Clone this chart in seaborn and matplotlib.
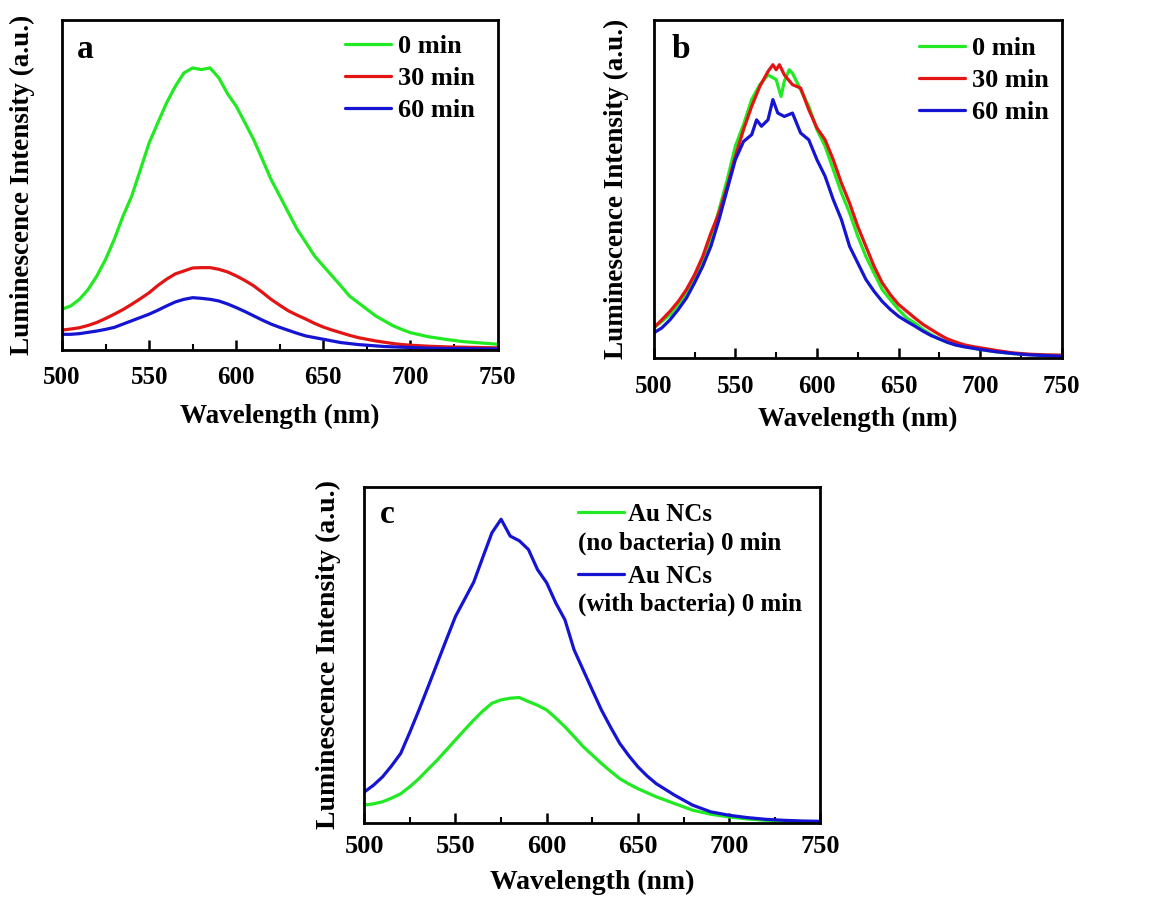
import numpy as np
import pandas as pd
import matplotlib
matplotlib.use("Agg")
import matplotlib.pyplot as plt
import seaborn as sns
from matplotlib.ticker import MultipleLocator

# ---------------- data (arbitrary units) ----------------
# Panel a
wl_a = [500, 505, 510, 515, 520, 525, 530, 535, 540, 545, 550, 555, 560, 565, 570,
        575, 580, 585, 590, 595, 600, 605, 610, 615, 620, 625, 630, 635, 640, 645,
        650, 655, 660, 665, 670, 675, 680, 685, 690, 695, 700, 710, 720, 730, 740, 750]
a_0min = [0.123, 0.133, 0.153, 0.183, 0.224, 0.274, 0.335, 0.405, 0.466, 0.546, 0.627,
          0.688, 0.748, 0.798, 0.839, 0.854, 0.849, 0.854, 0.824, 0.776, 0.738, 0.688,
          0.637, 0.577, 0.516, 0.466, 0.415, 0.365, 0.325, 0.284, 0.254, 0.224, 0.194,
          0.163, 0.143, 0.123, 0.103, 0.088, 0.073, 0.062, 0.052, 0.040, 0.032, 0.025,
          0.021, 0.017]
a_30min = [0.060, 0.063, 0.067, 0.074, 0.083, 0.095, 0.108, 0.122, 0.138, 0.155, 0.173,
           0.195, 0.214, 0.230, 0.239, 0.248, 0.249, 0.249, 0.244, 0.236, 0.224, 0.210,
           0.194, 0.174, 0.153, 0.135, 0.118, 0.105, 0.093, 0.080, 0.069, 0.060, 0.052,
           0.044, 0.037, 0.032, 0.027, 0.023, 0.019, 0.016, 0.014, 0.011, 0.009, 0.008,
           0.007, 0.006]
a_60min = [0.047, 0.047, 0.049, 0.053, 0.057, 0.062, 0.068, 0.078, 0.088, 0.098, 0.108,
           0.120, 0.133, 0.145, 0.153, 0.158, 0.156, 0.153, 0.148, 0.139, 0.128, 0.116,
           0.103, 0.090, 0.078, 0.068, 0.059, 0.050, 0.042, 0.037, 0.032, 0.027, 0.022,
           0.019, 0.016, 0.014, 0.012, 0.010, 0.009, 0.008, 0.007, 0.005, 0.004, 0.004,
           0.003, 0.003]

# Panel b
wl_b_0 = [500, 505, 510, 515, 520, 525, 530, 535, 540, 545, 550, 555, 560, 565, 570,
          575, 578, 580, 583, 585, 590, 595, 600, 605, 610, 615, 620, 625, 630, 635,
          640, 645, 650, 655, 660, 665, 670, 675, 680, 685, 690, 695, 700, 710, 720,
          730, 740, 750]
b_0min = [0.089, 0.108, 0.128, 0.158, 0.192, 0.232, 0.286, 0.350, 0.438, 0.527, 0.626,
          0.690, 0.764, 0.808, 0.837, 0.823, 0.773, 0.818, 0.852, 0.842, 0.793, 0.744,
          0.675, 0.626, 0.557, 0.488, 0.429, 0.360, 0.300, 0.251, 0.202, 0.172, 0.143,
          0.118, 0.103, 0.084, 0.069, 0.056, 0.046, 0.039, 0.034, 0.030, 0.025, 0.018,
          0.013, 0.010, 0.008, 0.007]
wl_b_30 = [500, 505, 510, 515, 520, 525, 530, 535, 540, 545, 550, 555, 560, 565, 570,
           573, 575, 577, 580, 585, 590, 595, 600, 605, 610, 615, 620, 625, 630, 635,
           640, 645, 650, 655, 660, 665, 670, 675, 680, 685, 690, 695, 700, 710, 720,
           730, 740, 750]
b_30min = [0.089, 0.113, 0.138, 0.167, 0.202, 0.246, 0.300, 0.369, 0.429, 0.507, 0.596,
           0.675, 0.744, 0.803, 0.847, 0.867, 0.852, 0.867, 0.837, 0.808, 0.798, 0.734,
           0.680, 0.645, 0.586, 0.517, 0.458, 0.389, 0.330, 0.271, 0.222, 0.187, 0.158,
           0.138, 0.118, 0.099, 0.084, 0.069, 0.056, 0.047, 0.039, 0.034, 0.030, 0.022,
           0.015, 0.011, 0.009, 0.008]
wl_b_60 = [500, 505, 510, 515, 520, 525, 530, 535, 540, 545, 550, 555, 560, 563, 566,
           570, 573, 576, 580, 585, 590, 595, 600, 605, 610, 615, 620, 625, 630, 635,
           640, 645, 650, 655, 660, 665, 670, 675, 680, 685, 690, 695, 700, 710, 720,
           730, 740, 750]
b_60min = [0.074, 0.089, 0.113, 0.143, 0.177, 0.222, 0.271, 0.330, 0.409, 0.498, 0.586,
           0.640, 0.660, 0.704, 0.685, 0.704, 0.764, 0.724, 0.714, 0.724, 0.665, 0.645,
           0.586, 0.537, 0.468, 0.409, 0.330, 0.281, 0.232, 0.197, 0.167, 0.143, 0.123,
           0.108, 0.094, 0.079, 0.066, 0.056, 0.046, 0.038, 0.033, 0.029, 0.025, 0.018,
           0.013, 0.009, 0.007, 0.005]

# Panel c
wl_c = [500, 505, 510, 515, 520, 525, 530, 535, 540, 545, 550, 555, 560, 565, 570,
        575, 580, 585, 590, 595, 600, 605, 610, 615, 620, 625, 630, 635, 640, 645,
        650, 655, 660, 665, 670, 675, 680, 685, 690, 695, 700, 710, 720, 730, 740, 750]
c_no_bact = [0.053, 0.057, 0.063, 0.074, 0.087, 0.108, 0.132, 0.160, 0.187, 0.217,
             0.247, 0.277, 0.306, 0.333, 0.356, 0.366, 0.371, 0.373, 0.361, 0.350,
             0.336, 0.312, 0.286, 0.257, 0.227, 0.202, 0.177, 0.154, 0.132, 0.116,
             0.102, 0.090, 0.078, 0.068, 0.058, 0.048, 0.038, 0.032, 0.026, 0.022,
             0.018, 0.012, 0.008, 0.006, 0.004, 0.003]
c_with_bact = [0.092, 0.112, 0.137, 0.170, 0.207, 0.270, 0.336, 0.405, 0.475, 0.545,
               0.614, 0.665, 0.716, 0.790, 0.863, 0.903, 0.853, 0.839, 0.813, 0.753,
               0.714, 0.654, 0.604, 0.515, 0.455, 0.395, 0.336, 0.285, 0.237, 0.200,
               0.167, 0.140, 0.117, 0.100, 0.083, 0.068, 0.053, 0.043, 0.033, 0.028,
               0.023, 0.016, 0.011, 0.008, 0.006, 0.005]

x_ticks = [500, 550, 600, 650, 700, 750]
legend_ab = ["0 min", "30 min", "60 min"]
legend_c_top = ["Au NCs", "Au NCs"]
legend_c_bottom = ["(no bacteria) 0 min", "(with bacteria) 0 min"]

GREEN = "#22ea22"
RED = "#e21414"
BLUE = "#1414d2"

# ---------------- style ----------------
sns.set_theme(style="ticks")
plt.rcParams["font.family"] = ["Liberation Serif", "DejaVu Serif"]
plt.rcParams["font.weight"] = "bold"
plt.rcParams["axes.labelweight"] = "bold"
plt.rcParams["text.color"] = "black"
plt.rcParams["axes.labelcolor"] = "black"
plt.rcParams["xtick.color"] = "black"
plt.rcParams["ytick.color"] = "black"
plt.rcParams["xtick.labelcolor"] = "black"

fig = plt.figure(figsize=(11.49, 8.97), dpi=100)

LW = 2.3


def style_axis(ax, ylabel_x, xlabel_y, tick_fs=18, label_fs=19.5, pad=12):
    ax.set_xlim(500, 750)
    ax.set_ylim(0, 1)
    ax.set_xticks(x_ticks)
    ax.xaxis.set_minor_locator(MultipleLocator(25))
    ax.set_yticks([])
    ax.tick_params(axis="x", which="major", direction="in", length=7, width=1.8,
                   labelsize=tick_fs, pad=pad, colors="black")
    ax.tick_params(axis="x", which="minor", direction="in", length=4, width=1.5,
                   colors="black")
    for lab in ax.get_xticklabels():
        lab.set_fontweight("bold")
    for s in ax.spines.values():
        s.set_linewidth(2.0)
        s.set_color("black")
    ax.set_xlabel("Wavelength (nm)", fontsize=label_fs, fontweight="bold", color="black")
    ax.set_ylabel("Luminescence Intensity (a.u.)", fontsize=label_fs,
                  fontweight="bold", color="black")
    ax.yaxis.set_label_coords(ylabel_x, 0.5)
    ax.xaxis.set_label_coords(0.5, xlabel_y)


# Panel a
ax_a = fig.add_axes([0.054, 0.610, 0.379, 0.368])
sns.lineplot(x=wl_a, y=a_0min, color=GREEN, lw=LW, ax=ax_a, label=legend_ab[0])
sns.lineplot(x=wl_a, y=a_30min, color=RED, lw=LW, ax=ax_a, label=legend_ab[1])
sns.lineplot(x=wl_a, y=a_60min, color=BLUE, lw=LW, ax=ax_a, label=legend_ab[2])
style_axis(ax_a, -0.062, -0.165)
ax_a.text(0.034, 0.885, "a", transform=ax_a.transAxes, fontsize=24, fontweight="bold")
ax_a.legend(loc="upper left", bbox_to_anchor=(0.650, 0.955), frameon=False,
            fontsize=19, handlelength=1.75, handletextpad=0.25, labelspacing=0.33,
            borderaxespad=0, borderpad=0)

# Panel b
ax_b = fig.add_axes([0.569, 0.601, 0.355, 0.377])
sns.lineplot(x=wl_b_0, y=b_0min, color=GREEN, lw=LW, ax=ax_b, label=legend_ab[0])
sns.lineplot(x=wl_b_30, y=b_30min, color=RED, lw=LW, ax=ax_b, label=legend_ab[1])
sns.lineplot(x=wl_b_60, y=b_60min, color=BLUE, lw=LW, ax=ax_b, label=legend_ab[2])
style_axis(ax_b, -0.06, -0.145)
ax_b.text(0.044, 0.888, "b", transform=ax_b.transAxes, fontsize=24, fontweight="bold")
ax_b.legend(loc="upper left", bbox_to_anchor=(0.650, 0.950), frameon=False,
            fontsize=19, handlelength=1.75, handletextpad=0.25, labelspacing=0.33,
            borderaxespad=0, borderpad=0)

# Panel c
ax_c = fig.add_axes([0.317, 0.0825, 0.397, 0.375])
sns.lineplot(x=wl_c, y=c_no_bact, color=GREEN, lw=LW, ax=ax_c, label=legend_c_top[0])
sns.lineplot(x=wl_c, y=c_with_bact, color=BLUE, lw=LW, ax=ax_c, label=legend_c_top[1])
style_axis(ax_c, -0.051, -0.14, tick_fs=19, label_fs=20, pad=9)
ax_c.text(0.035, 0.893, "c", transform=ax_c.transAxes, fontsize=24, fontweight="bold")
ax_c.legend(loc="upper left", bbox_to_anchor=(0.469, 0.952), frameon=False,
            fontsize=18, handlelength=1.85, handletextpad=0.15, labelspacing=1.57,
            borderaxespad=0, borderpad=0)
ax_c.text(0.469, 0.833, legend_c_bottom[0], transform=ax_c.transAxes,
          fontsize=18, fontweight="bold", va="center", ha="left")
ax_c.text(0.469, 0.649, legend_c_bottom[1], transform=ax_c.transAxes,
          fontsize=18, fontweight="bold", va="center", ha="left")

fig.savefig("out.png", dpi=100, facecolor="white")
